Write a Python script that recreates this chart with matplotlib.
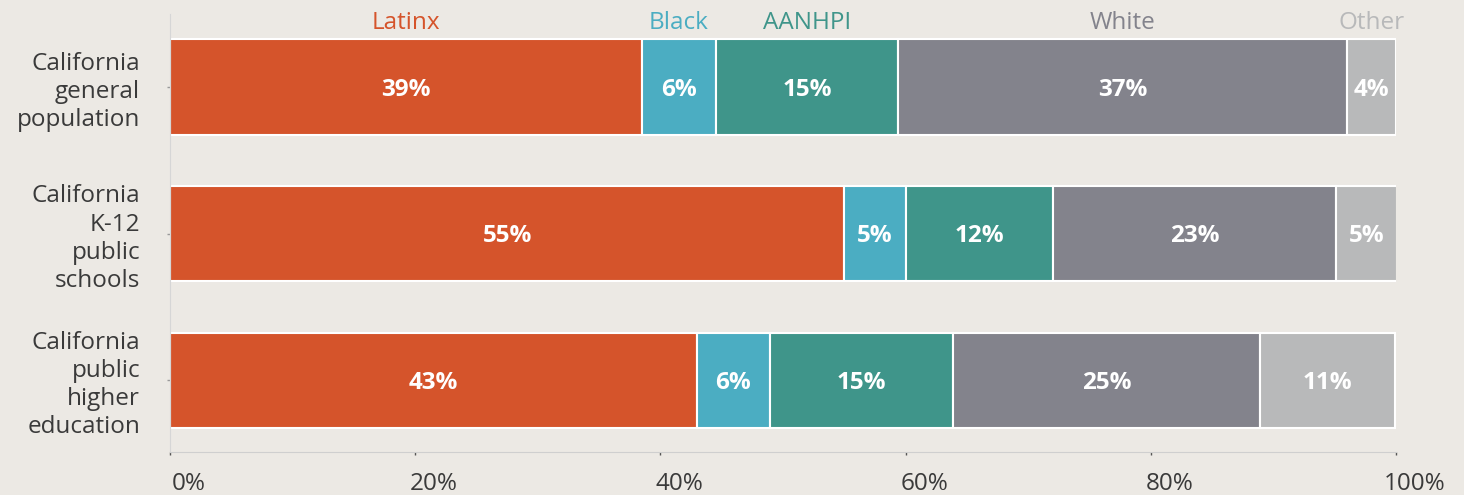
import matplotlib.pyplot as plt
import matplotlib.transforms as mtransforms
import numpy as np

categories = ["California\ngeneral\npopulation", "California\nK-12\npublic\nschools", "California\npublic\nhigher\neducation"]
groups = ["Latinx", "Black", "AANHPI", "White", "Other"]
latinx = [38.5, 55.0, 43.0]
black = [6.0, 5.0, 5.9]
aanhpi = [14.9, 12.0, 15.0]
white = [36.6, 23.1, 25.0]
other = [4.0, 5.0, 11.0]
labels = [["39%", "55%", "43%"], ["6%", "5%", "6%"], ["15%", "12%", "15%"],
          ["37%", "23%", "25%"], ["4%", "5%", "11%"]]
colors = ["#D5542B", "#4BADC2", "#3F958A", "#83838C", "#B8B9BA"]
xticks = [0, 20, 40, 60, 80, 100]
xticklabels = ["0%", "20%", "40%", "60%", "80%", "100%"]

bg = "#ECE9E4"
plt.rcParams['font.family'] = ['Open Sans', 'DejaVu Sans']

fig = plt.figure(figsize=(14.64, 4.95), dpi=100, facecolor=bg)
ax = fig.add_axes([170/1464, 1-452/495, (1396-170)/1464, (452-13.75)/495], facecolor=bg)

series = [latinx, black, aanhpi, white, other]
y = np.arange(len(categories))
left = np.zeros(len(categories))
down = mtransforms.ScaledTranslation(0, -2.5/100, fig.dpi_scale_trans)
for i, (vals, col) in enumerate(zip(series, colors)):
    vals = np.array(vals)
    ax.barh(y, vals, left=left, height=0.65, color=col, edgecolor="white", linewidth=1.5)
    for j in range(len(categories)):
        ax.text(left[j] + vals[j]/2, y[j], labels[i][j], ha="center", va="center",
                color="white", fontsize=17.5, fontweight="bold",
                transform=ax.transData + down)
    # group names above first row
    ax.text(left[0] + vals[0]/2, -0.395, groups[i], ha="center", va="baseline",
            color=col, fontsize=17.5)
    left = left + vals

ax.set_xlim(0, 100)
ax.set_ylim(2.49, -0.5)
ax.set_yticks(y)
ax.set_yticklabels(categories, fontsize=17.5, color="#3a3a3a", linespacing=1.23)
ax.set_xticks(xticks)
ax.set_xticklabels(xticklabels, fontsize=17.5, color="#3a3a3a")
ax.tick_params(axis="x", length=2, width=1, color="#555555", pad=12.5)
ax.tick_params(axis="y", length=2, width=1, color="#999999", pad=19.5)
offset = mtransforms.ScaledTranslation(19/100, 0, fig.dpi_scale_trans)
for lab in ax.get_xticklabels():
    lab.set_transform(lab.get_transform() + offset)
for s in ["top", "right"]:
    ax.spines[s].set_visible(False)
ax.spines["bottom"].set_color("#cfcfcf")
ax.spines["left"].set_color("#d6d6d6")

fig.savefig("out.png", dpi=100, facecolor=bg)
